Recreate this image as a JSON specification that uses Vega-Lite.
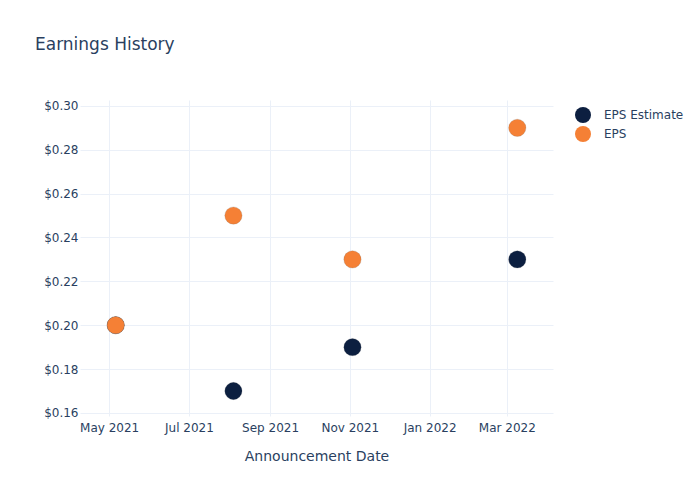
{
  "$schema": "https://vega.github.io/schema/vega-lite/v6.json",
  "width": 473,
  "height": 316,
  "autosize": {"type": "none"},
  "padding": {"left": 80, "top": 100, "right": 147, "bottom": 84},
  "background": "white",
  "title": {
    "text": "Earnings History",
    "anchor": "start",
    "frame": "group",
    "dx": -45,
    "offset": 46,
    "font": "DejaVu Sans",
    "fontSize": 17,
    "fontWeight": "normal",
    "color": "#2a3f5f"
  },
  "config": {
    "view": {"stroke": null},
    "axis": {
      "labelFont": "DejaVu Sans",
      "labelFontSize": 12,
      "labelColor": "#2a3f5f",
      "titleFont": "DejaVu Sans",
      "titleFontWeight": "normal",
      "titleColor": "#2a3f5f",
      "gridColor": "#ebf0f8",
      "gridWidth": 1,
      "domain": false,
      "ticks": false
    },
    "legend": {
      "labelFont": "DejaVu Sans",
      "labelFontSize": 12,
      "labelColor": "#2a3f5f"
    }
  },
  "data": {
    "values": [
      {"date": "2021-05-06", "series": "EPS Estimate", "value": 0.20},
      {"date": "2021-08-04", "series": "EPS Estimate", "value": 0.17},
      {"date": "2021-11-03", "series": "EPS Estimate", "value": 0.19},
      {"date": "2022-03-09", "series": "EPS Estimate", "value": 0.23},
      {"date": "2021-05-06", "series": "EPS", "value": 0.20},
      {"date": "2021-08-04", "series": "EPS", "value": 0.25},
      {"date": "2021-11-03", "series": "EPS", "value": 0.23},
      {"date": "2022-03-09", "series": "EPS", "value": 0.29}
    ]
  },
  "mark": {"type": "point", "filled": true, "opacity": 1, "shape": "circle", "size": 300, "stroke": "#6b6b6b", "strokeWidth": 0.4, "strokeOpacity": 0.5},
  "encoding": {
    "x": {
      "field": "date",
      "type": "temporal",
      "scale": {
        "type": "utc",
        "domain": [
          {"year": 2021, "month": 4, "date": 8, "hours": 17, "utc": true},
          {"year": 2022, "month": 4, "date": 5, "hours": 7, "utc": true}
        ]
      },
      "axis": {
        "title": "Announcement Date",
        "titleFontSize": 14,
        "titlePadding": 16,
        "labelPadding": 6,
        "format": "%b %Y",
        "labelFlush": false,
        "labelOverlap": false,
        "values": [
          {"year": 2021, "month": 5, "date": 1, "utc": true},
          {"year": 2021, "month": 7, "date": 1, "utc": true},
          {"year": 2021, "month": 9, "date": 1, "utc": true},
          {"year": 2021, "month": 11, "date": 1, "utc": true},
          {"year": 2022, "month": 1, "date": 1, "utc": true},
          {"year": 2022, "month": 3, "date": 1, "utc": true}
        ]
      }
    },
    "y": {
      "field": "value",
      "type": "quantitative",
      "scale": {"domain": [0.1586, 0.3027], "nice": false, "zero": false},
      "axis": {
        "title": null,
        "format": "$.2f",
        "labelPadding": 2,
        "values": [0.16, 0.18, 0.20, 0.22, 0.24, 0.26, 0.28, 0.30]
      }
    },
    "color": {
      "field": "series",
      "type": "nominal",
      "scale": {"domain": ["EPS Estimate", "EPS"], "range": ["#0c1f40", "#f58035"]},
      "legend": {
        "title": null,
        "orient": "none",
        "legendX": 495,
        "legendY": 7,
        "symbolSize": 256,
        "symbolType": "circle",
        "symbolStrokeWidth": 0,
        "labelOffset": 13,
        "rowPadding": 3,
        "padding": 0
      }
    }
  }
}
